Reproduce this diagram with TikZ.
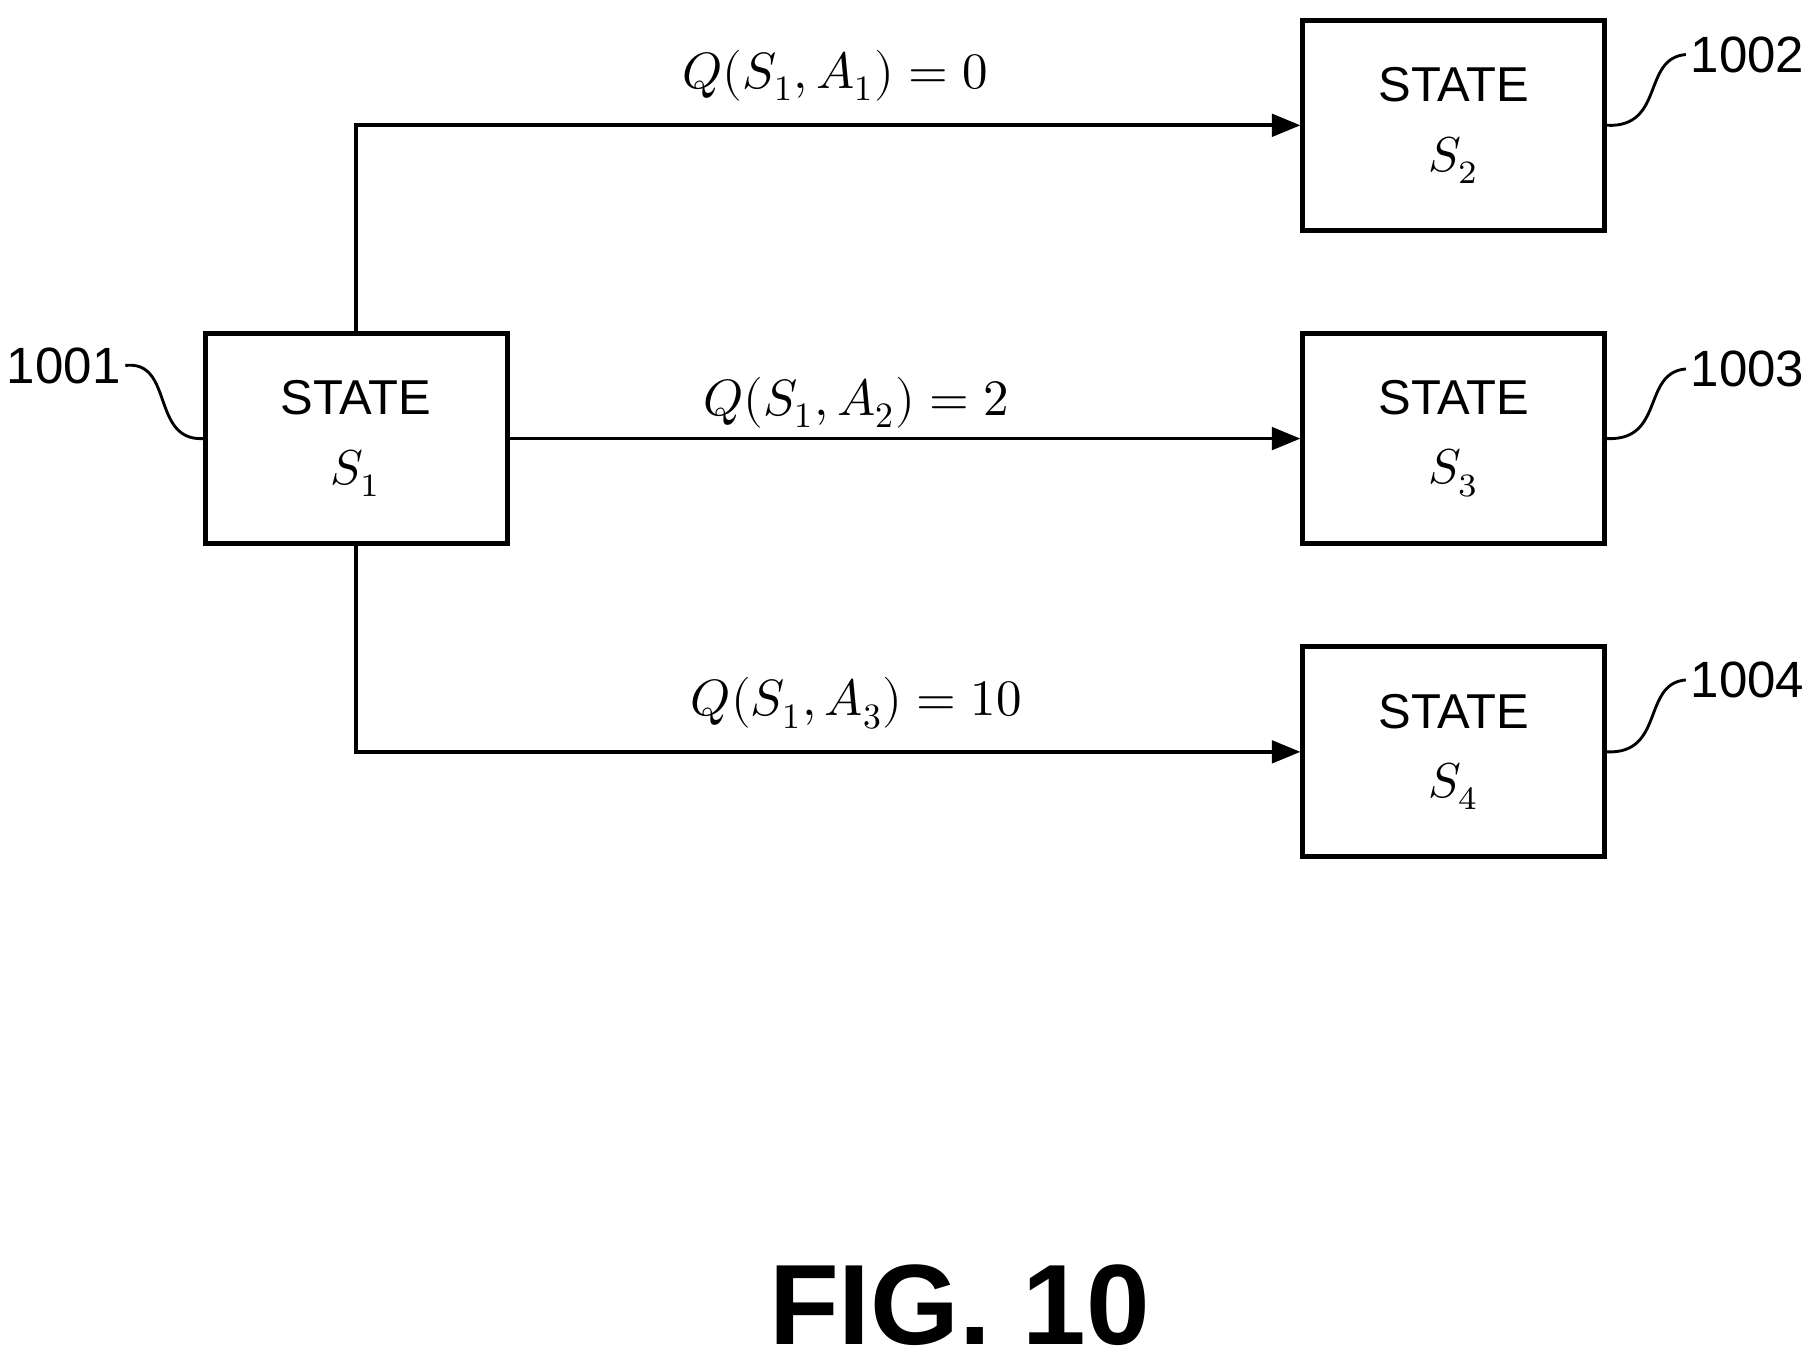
\documentclass[tikz,border=0pt]{standalone}
\usepackage{fontspec}
\setmainfont{Liberation Sans}
\usepackage{unicode-math}
\usetikzlibrary{arrows.meta}
\begin{document}
\begin{tikzpicture}[x=0.01cm,y=-0.01cm,
  box/.style={draw,line width=1.2pt,minimum width=2.6cm,minimum height=1.81cm,align=center,font=\fontsize{12}{17}\selectfont},
  arr/.style={line width=0.9pt,-{Triangle[length=7pt,width=5.5pt]}},
  lbl/.style={font=\fontsize{12.5}{15}\selectfont},
  ref/.style={font=\fontsize{12.5}{15}\selectfont,inner sep=1pt},
  lead/.style={line width=0.7pt}]
\useasboundingbox (0,0) rectangle (1560,1178);
\node[box] (s1) at (307,378) {STATE\\$S_1$};
\node[box] (s2) at (1253,108) {STATE\\$S_2$};
\node[box] (s3) at (1253,378) {STATE\\$S_3$};
\node[box] (s4) at (1253,648) {STATE\\$S_4$};
\coordinate (c1) at (s1.north |- s2.west);
\coordinate (c3) at (s1.south |- s4.west);
\draw[arr] (s1.north) -- (c1) -- (s2.west);
\draw[arr] (s1.east) -- (s3.west);
\draw[arr] (s1.south) -- (c3) -- (s4.west);
\node[lbl] (q1) at (720,65) {$Q(S_1,A_1)=0$};
\node[lbl] (q2) at (738,347) {$Q(S_1,A_2)=2$};
\node[lbl] (q3) at (738,606) {$Q(S_1,A_3)=10$};
\node[ref,anchor=east] (r1) at (108,315) {1001};
\node[ref,anchor=west] (r2) at (1453,47) {1002};
\node[ref,anchor=west] (r3) at (1453,318) {1003};
\node[ref,anchor=west] (r4) at (1453,586) {1004};
\draw[lead] (r1.east) .. controls (150,310) and (130,380) .. (s1.west);
\draw[lead] (r2.west) .. controls (1415,50) and (1435,110) .. (s2.east);
\draw[lead] (r3.west) .. controls (1415,321) and (1435,380) .. (s3.east);
\draw[lead] (r4.west) .. controls (1415,589) and (1435,650) .. (s4.east);
\node[font=\fontsize{28}{32}\selectfont\bfseries] (fig) at (827,1125) {FIG. 10};
\end{tikzpicture}
\end{document}
